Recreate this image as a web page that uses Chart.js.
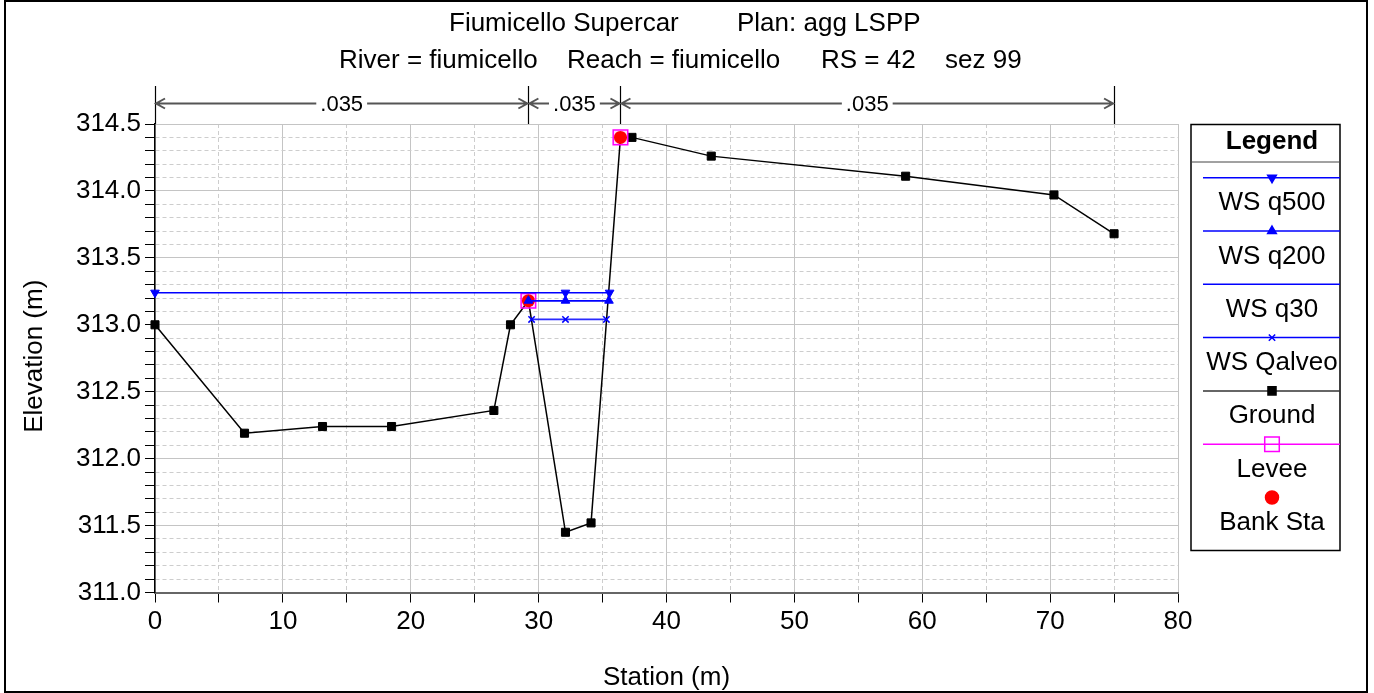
<!DOCTYPE html>
<html>
<head>
<meta charset="utf-8">
<script src="https://cdn.jsdelivr.net/npm/chart.js@4.4.1/dist/chart.umd.min.js"></script>
<style>
html, body { margin: 0; padding: 0; background: #fff; }
canvas { display: block; }
</style>
</head>
<body>
<canvas id="xs" width="1374" height="693"></canvas>
<script>
// cross section data (station m, elevation m)
const groundSta  = [0, 7.0, 13.1, 18.5, 26.5, 27.8, 29.2, 32.1, 34.1, 36.4, 37.3, 43.5, 58.7, 70.3, 75.0];
const groundElev = [313.0, 312.19, 312.24, 312.24, 312.36, 313.0, 313.18, 311.45, 311.52, 314.4, 314.4, 314.26, 314.11, 313.97, 313.68];

const q500Sta    = [0, 32.1, 35.55];
const q500Elev   = [313.24, 313.24, 313.24];
const q200Sta    = [29.2, 32.1, 35.5];
const q200Elev   = [313.18, 313.18, 313.18];
const q30Sta     = [29.2, 32.1, 35.5];
const q30Elev    = [313.18, 313.18, 313.18];
const qalveoSta  = [29.45, 32.1, 35.3];
const qalveoElev = [313.04, 313.04, 313.04];

const leveeSta   = [29.2, 36.4];
const leveeElev  = [313.18, 314.4];
const bankSta    = [29.2, 36.4];
const bankElev   = [313.18, 314.4];

// Manning's n regions
const nBreaks = [0, 29.2, 36.4, 75];
const nValues = [".035", ".035", ".035"];

const titleLine1 = ["Fiumicello Supercar", "Plan: agg LSPP"];
const titleLine2 = ["River = fiumicello", "Reach = fiumicello", "RS = 42", "sez 99"];

const FONT = "'Liberation Sans', Arial, Helvetica, sans-serif";
const BLUE = "#0000ff";

function pts(xs, ys) {
    return xs.map((x, i) => ({ x: x, y: ys[i] }));
}

function isMajorY(v) {
    return Math.round(v * 10) % 5 === 0;
}
function isMajorX(v) {
    return Math.round(v) % 10 === 0;
}

const legendItems = [
    { label: "WS q500", line: BLUE, style: "triangle", rot: 180, r: 5, fill: BLUE },
    { label: "WS q200", line: BLUE, style: "triangle", rot: 0, r: 5, fill: BLUE },
    { label: "WS q30", line: BLUE, style: null },
    { label: "WS Qalveo", line: BLUE, style: "crossRot", rot: 0, r: 4.5, fill: BLUE },
    { label: "Ground", line: "#333", style: "rect", rot: 0, r: 5.7, fill: "#000" },
    { label: "Levee", line: "#ff00ff", style: "rect", rot: 0, r: 10.3, fill: "rgba(0,0,0,0)", stroke: "#ff00ff" },
    { label: "Bank Sta", line: null, style: "circle", rot: 0, r: 6.5, fill: "#ff0000" },
];

const decorPlugin = {
    id: "decor",
    beforeDraw(chart) {
        const ctx = chart.ctx;
        ctx.save();
        ctx.fillStyle = "#fff";
        ctx.fillRect(0, 0, chart.width, chart.height);
        ctx.restore();
    },
    afterDraw(chart) {
        const ctx = chart.ctx;
        const xs = chart.scales.x;
        const area = chart.chartArea;
        ctx.save();
        ctx.fillStyle = "#000";

        // titles
        ctx.font = "26px " + FONT;
        ctx.textAlign = "left";
        ctx.textBaseline = "alphabetic";
        const l1x = [449, 737];
        titleLine1.forEach((t, i) => ctx.fillText(t, l1x[i], 31));
        const l2x = [339, 567, 821, 945];
        titleLine2.forEach((t, i) => ctx.fillText(t, l2x[i], 68));

        // axis titles
        ctx.font = "26px " + FONT;
        ctx.textAlign = "center";
        ctx.fillText("Station (m)", (area.left + area.right) / 2, 685);
        ctx.save();
        ctx.translate(42, (area.top + area.bottom) / 2 - 2);
        ctx.rotate(-Math.PI / 2);
        ctx.fillText("Elevation (m)", 0, 0);
        ctx.restore();

        // n value arrows
        const ay = 103.5;
        ctx.strokeStyle = "#000";
        ctx.lineWidth = 1.2;
        nBreaks.forEach(s => {
            const px = Math.round(xs.getPixelForValue(s)) + 0.5;
            ctx.beginPath();
            ctx.moveTo(px, 86);
            ctx.lineTo(px, area.top);
            ctx.stroke();
        });
        ctx.font = "22px " + FONT;
        ctx.textBaseline = "middle";
        ctx.strokeStyle = "#555";
        ctx.lineWidth = 2;
        for (let i = 0; i < nValues.length; i++) {
            const x1 = xs.getPixelForValue(nBreaks[i]);
            const x2 = xs.getPixelForValue(nBreaks[i + 1]);
            const cx = (x1 + x2) / 2;
            const w = ctx.measureText(nValues[i]).width;
            ctx.fillText(nValues[i], cx, ay + 1);
            ctx.beginPath();
            ctx.moveTo(x1 + 1, ay);
            ctx.lineTo(cx - w / 2 - 4, ay);
            ctx.moveTo(cx + w / 2 + 4, ay);
            ctx.lineTo(x2 - 1, ay);
            // heads
            ctx.moveTo(x1 + 10, ay - 5);
            ctx.lineTo(x1 + 1, ay);
            ctx.lineTo(x1 + 10, ay + 5);
            ctx.moveTo(x2 - 10, ay - 5);
            ctx.lineTo(x2 - 1, ay);
            ctx.lineTo(x2 - 10, ay + 5);
            ctx.stroke();
        }

        // legend box
        const bx = 1191, by = 124.5, bw = 149, bh = 426;
        ctx.strokeStyle = "#000";
        ctx.lineWidth = 1.5;
        ctx.strokeRect(bx, by, bw, bh);
        ctx.lineWidth = 1;
        ctx.strokeStyle = "#444";
        ctx.beginPath();
        ctx.moveTo(bx, 162);
        ctx.lineTo(bx + bw, 162);
        ctx.stroke();
        ctx.font = "bold 26px " + FONT;
        ctx.textAlign = "center";
        ctx.textBaseline = "alphabetic";
        ctx.fillText("Legend", 1272, 149);
        ctx.font = "26px " + FONT;
        legendItems.forEach((it, i) => {
            const ly = 177.7 + 53.3 * i;
            if (it.line) {
                ctx.strokeStyle = it.line;
                ctx.lineWidth = 1.5;
                ctx.beginPath();
                ctx.moveTo(1203, ly);
                ctx.lineTo(bx + bw, ly);
                ctx.stroke();
            }
            if (it.style) {
                ctx.fillStyle = it.fill;
                ctx.strokeStyle = it.stroke || it.fill;
                ctx.lineWidth = 1.5;
                Chart.helpers.drawPoint(ctx, { pointStyle: it.style, rotation: it.rot, radius: it.r, borderWidth: 1.5 }, 1272, ly);
            }
            ctx.fillStyle = "#000";
            ctx.fillText(it.label, 1272, ly + 32.5);
        });

        // frame
        ctx.strokeStyle = "#000";
        ctx.lineWidth = 2;
        ctx.strokeRect(5, 1, 1362, 691);
        ctx.restore();
    }
};

Chart.defaults.font.family = FONT;
Chart.defaults.color = "#000";

const ctx = document.getElementById("xs").getContext("2d");
new Chart(ctx, {
    type: "scatter",
    data: {
        datasets: [
            {
                label: "WS q200",
                data: pts(q200Sta, q200Elev),
                showLine: true,
                borderColor: BLUE,
                backgroundColor: BLUE,
                borderWidth: 1.5,
                pointStyle: "triangle",
                pointRadius: 5,
                pointBorderWidth: 1,
                clip: false,
                order: 0,
            },
            {
                label: "WS q500",
                data: pts(q500Sta, q500Elev),
                showLine: true,
                borderColor: BLUE,
                backgroundColor: BLUE,
                borderWidth: 1.5,
                pointStyle: "triangle",
                pointRotation: 180,
                pointRadius: 5,
                pointBorderWidth: 1,
                clip: false,
                order: 1,
            },
            {
                label: "WS q30",
                data: pts(q30Sta, q30Elev),
                showLine: true,
                borderColor: BLUE,
                borderWidth: 1.5,
                pointRadius: 0,
                clip: false,
                order: 2,
            },
            {
                label: "WS Qalveo",
                data: pts(qalveoSta, qalveoElev),
                showLine: true,
                borderColor: "#2a2aff",
                backgroundColor: BLUE,
                borderWidth: 1.8,
                pointStyle: "crossRot",
                pointRadius: 4.5,
                pointBorderColor: BLUE,
                pointBorderWidth: 1.5,
                clip: false,
                order: 3,
            },
            {
                label: "Bank Sta",
                data: pts(bankSta, bankElev),
                showLine: false,
                backgroundColor: "#ff0000",
                borderColor: "#ff0000",
                pointStyle: "circle",
                pointRadius: 6.5,
                pointBorderWidth: 0,
                clip: false,
                order: 4,
            },
            {
                label: "Levee",
                data: pts(leveeSta, leveeElev),
                showLine: false,
                backgroundColor: "rgba(255,0,255,0.15)",
                borderColor: "#ff00ff",
                pointStyle: "rect",
                pointRadius: 10.3,
                pointBorderWidth: 1.5,
                clip: false,
                order: 5,
            },
            {
                label: "Ground",
                data: pts(groundSta, groundElev),
                showLine: true,
                borderColor: "#000",
                backgroundColor: "#000",
                borderWidth: 1.5,
                pointStyle: "rect",
                pointRadius: 5.7,
                pointBorderWidth: 1,
                clip: false,
                order: 6,
            },
        ]
    },
    options: {
        responsive: false,
        animation: false,
        events: [],
        layout: { padding: { left: 0, top: 124, right: 196, bottom: 0 } },
        plugins: {
            legend: { display: false },
            tooltip: { enabled: false },
            title: { display: false },
        },
        scales: {
            x: {
                type: "linear",
                min: 0,
                max: 80,
                afterFit: s => { s.height = 100.5; },
                ticks: {
                    stepSize: 5,
                    autoSkip: false,
                    maxRotation: 0,
                    padding: 4,
                    font: { size: 26 },
                    callback: v => isMajorX(v) ? String(v) : "",
                },
                grid: {
                    color: c => (c.tick && isMajorX(c.tick.value)) ? "#c4c4c4" : "#cdcdcd",
                    lineWidth: 1,
                    tickLength: 10,
                    tickColor: "#000",
                },
                border: {
                    color: "#666",
                    width: 2,
                    dash: c => (c.tick && !isMajorX(c.tick.value)) ? [4, 3] : [],
                },
            },
            y: {
                type: "linear",
                min: 311.0,
                max: 314.5,
                afterFit: s => { s.width = 155; },
                ticks: {
                    stepSize: 0.1,
                    autoSkip: false,
                    padding: 4,
                    font: { size: 26 },
                    callback: v => isMajorY(v) ? v.toFixed(1) : "",
                },
                grid: {
                    color: c => (c.tick && isMajorY(c.tick.value)) ? "#c4c4c4" : "#cdcdcd",
                    lineWidth: 1,
                    tickLength: 10,
                    tickColor: "#000",
                },
                border: {
                    color: "#000",
                    width: 1.5,
                    dash: c => (c.tick && !isMajorY(c.tick.value)) ? [4, 3] : [],
                },
            }
        }
    },
    plugins: [decorPlugin],
});
</script>
</body>
</html>
